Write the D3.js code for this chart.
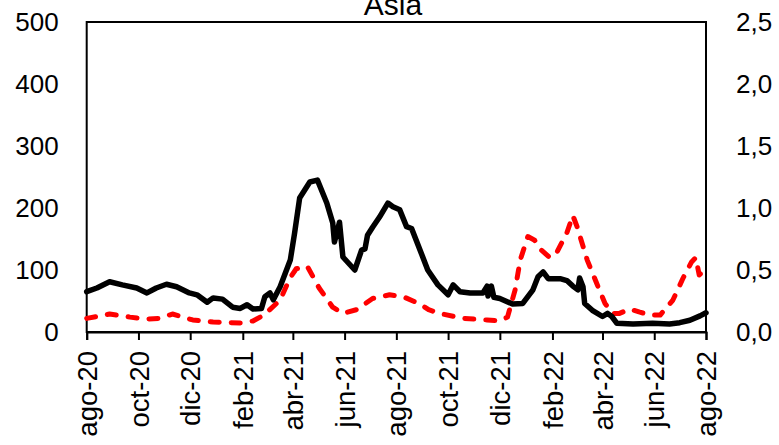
<!DOCTYPE html>
<html><head><meta charset="utf-8">
<script src="https://cdn.jsdelivr.net/npm/d3@7"></script>
<style>html,body{margin:0;padding:0;background:#fff;overflow:hidden}</style>
</head><body>
<svg id="c" width="779" height="445"></svg>
<script>
const title = "Asia";
const tickDates = ["2020-08-01","2020-10-01","2020-12-01","2021-02-01","2021-04-01","2021-06-01","2021-08-01","2021-10-01","2021-12-01","2022-02-01","2022-04-01","2022-06-01","2022-08-01"];
const tickLabels = ["ago-20","oct-20","dic-20","feb-21","abr-21","jun-21","ago-21","oct-21","dic-21","feb-22","abr-22","jun-22","ago-22"];
const leftTicks = [0,100,200,300,400,500];
const rightTicks = [0,0.5,1,1.5,2,2.5];
const rightTickLabels = ["0,0","0,5","1,0","1,5","2,0","2,5"];

const blackDates = ["2020-08-01","2020-08-13","2020-08-28","2020-09-12","2020-09-29","2020-10-11","2020-10-22","2020-11-03","2020-11-15","2020-11-30","2020-12-09","2020-12-21","2020-12-28","2021-01-08","2021-01-20","2021-01-29","2021-02-06","2021-02-13","2021-02-23","2021-02-27","2021-03-05","2021-03-09","2021-03-17","2021-03-29","2021-04-03","2021-04-09","2021-04-21","2021-04-30","2021-05-11","2021-05-18","2021-05-20","2021-05-26","2021-05-30","2021-06-13","2021-06-21","2021-06-25","2021-06-28","2021-07-04","2021-07-12","2021-07-22","2021-07-28","2021-08-05","2021-08-13","2021-08-19","2021-08-29","2021-09-07","2021-09-19","2021-10-01","2021-10-07","2021-10-15","2021-10-27","2021-11-11","2021-11-16","2021-11-17","2021-11-21","2021-11-24","2021-12-01","2021-12-16","2021-12-28","2022-01-09","2022-01-15","2022-01-21","2022-01-27","2022-02-10","2022-02-18","2022-02-25","2022-03-03","2022-03-05","2022-03-09","2022-03-11","2022-03-20","2022-04-01","2022-04-07","2022-04-12","2022-04-18","2022-05-07","2022-05-30","2022-06-19","2022-07-01","2022-07-13","2022-07-25","2022-08-01"];
const blackValues = [65,71,81,76,71,63,71,77,73,63,60,48,55,53,40,38,44,37,38,57,63,52,73,116,159,216,242,245,208,176,145,177,121,100,132,134,156,169,185,208,202,197,170,167,132,100,76,60,76,65,63,63,74,58,74,56,54,45,46,68,89,97,86,86,83,74,68,87,73,46,35,25,30,25,14,13,14,13,15,19,26,31];

const redDates = ["2020-08-01","2020-08-28","2020-09-21","2020-10-11","2020-10-26","2020-11-10","2020-12-04","2020-12-28","2021-01-29","2021-02-13","2021-02-26","2021-03-17","2021-03-29","2021-04-05","2021-04-18","2021-05-02","2021-05-18","2021-05-30","2021-06-15","2021-07-04","2021-07-24","2021-08-09","2021-08-29","2021-09-08","2021-09-21","2021-10-19","2021-11-16","2021-12-01","2021-12-10","2021-12-19","2021-12-25","2022-01-03","2022-01-11","2022-01-19","2022-01-29","2022-02-06","2022-02-18","2022-02-25","2022-03-02","2022-03-14","2022-03-25","2022-04-04","2022-04-13","2022-04-21","2022-05-03","2022-05-15","2022-05-27","2022-06-08","2022-06-23","2022-07-05","2022-07-15","2022-07-20","2022-07-24","2022-07-30"];
const redValues = [0.11,0.145,0.12,0.105,0.11,0.145,0.097,0.08,0.073,0.089,0.137,0.258,0.44,0.51,0.53,0.355,0.2,0.15,0.18,0.27,0.30,0.285,0.225,0.18,0.15,0.11,0.097,0.09,0.12,0.34,0.58,0.77,0.74,0.66,0.60,0.64,0.80,0.94,0.85,0.58,0.395,0.23,0.15,0.15,0.185,0.16,0.137,0.137,0.258,0.435,0.565,0.60,0.46,0.50];

const parse = d3.timeParse("%Y-%m-%d");
const svg = d3.select("#c");
const L = 86.7, R = 706, T = 22, B = 332;
const font = "'Liberation Sans', Arial, sans-serif";

const x = d3.scaleTime().domain([parse("2020-08-01"), parse("2022-08-01")]).range([L, R]);
const yL = d3.scaleLinear().domain([0,500]).range([B, T]);
const yR = d3.scaleLinear().domain([0,2.5]).range([B, T]);

svg.append("rect").attr("x", L).attr("y", T).attr("width", R-L).attr("height", B-T)
  .attr("fill","none").attr("stroke","#000").attr("stroke-width",2);

const black = blackDates.map((d,i)=>({d:parse(d), v:blackValues[i]}));
const red = redDates.map((d,i)=>({d:parse(d), v:redValues[i]}));

svg.append("path").datum(red)
  .attr("d", d3.line().x(p=>x(p.d)).y(p=>yR(p.v)))
  .attr("fill","none").attr("stroke","#ff0000").attr("stroke-width",5)
  .attr("stroke-dasharray","9,12").attr("stroke-linecap","round").attr("stroke-linejoin","round");

svg.append("path").datum(black)
  .attr("d", d3.line().x(p=>x(p.d)).y(p=>yL(p.v)))
  .attr("fill","none").attr("stroke","#000").attr("stroke-width",5.5)
  .attr("stroke-linejoin","round").attr("stroke-linecap","round");

const xa = svg.append("g").attr("transform",`translate(0,${B})`)
  .call(d3.axisBottom(x).tickValues(tickDates.map(parse)).tickSize(8).tickFormat((d,i)=>tickLabels[i]));
xa.select(".domain").attr("stroke","#000").attr("stroke-width",2);
xa.selectAll(".tick line").attr("stroke","#000").attr("stroke-width",2);
xa.selectAll(".tick text")
  .attr("font-family", font).attr("font-size", 27.5).attr("fill","#000")
  .attr("transform","rotate(-90)").attr("text-anchor","end")
  .attr("x",-19).attr("y",0).attr("dy","0.35em");

const ya = svg.append("g").attr("transform",`translate(${L},0)`)
  .call(d3.axisLeft(yL).tickValues(leftTicks).tickSize(0).tickPadding(28));
ya.select(".domain").remove();
ya.selectAll(".tick text").attr("font-family", font).attr("font-size", 26).attr("fill","#000");

const ra = svg.append("g").attr("transform",`translate(${R},0)`)
  .call(d3.axisRight(yR).tickValues(rightTicks).tickSize(0).tickPadding(30).tickFormat((d,i)=>rightTickLabels[i]));
ra.select(".domain").remove();
ra.selectAll(".tick text").attr("font-family", font).attr("font-size", 26).attr("fill","#000");

svg.append("text").attr("x", 393).attr("y", 15).attr("text-anchor","middle")
  .attr("font-family", font).attr("font-size", 30).attr("fill","#000").text(title);
</script>
</body></html>
